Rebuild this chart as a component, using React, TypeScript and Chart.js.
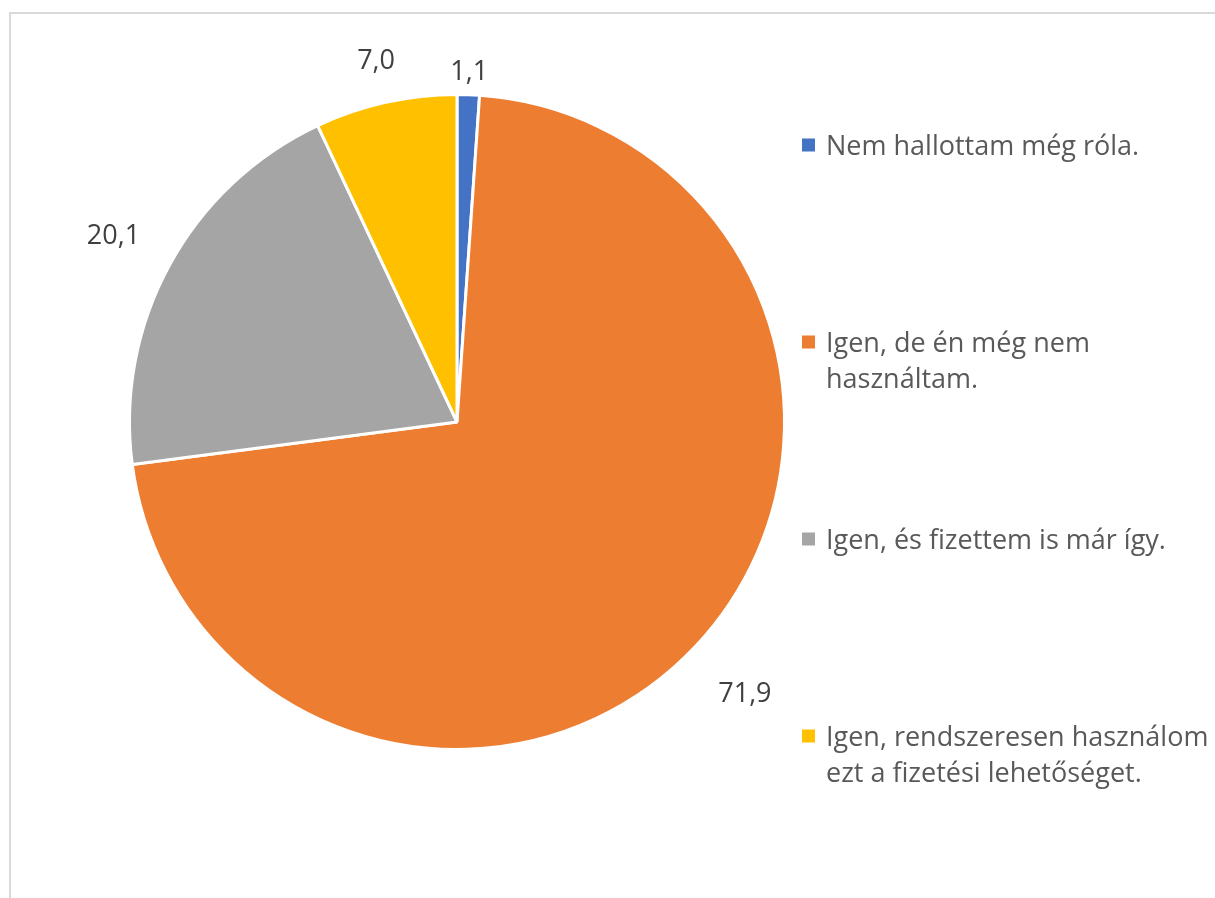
import React, { useEffect, useRef } from "react";
import { Chart, registerables } from "chart.js";

Chart.register(...registerables);

const categories = [
  "Nem hallottam még róla.",
  "Igen, de én még nem használtam.",
  "Igen, és fizettem is már így.",
  "Igen, rendszeresen használom ezt a fizetési lehetőséget.",
];
const values = [1.1, 71.9, 20.1, 7.0];
const valueLabels = ["1,1", "71,9", "20,1", "7,0"];
const colors = ["#4472C4", "#ED7D31", "#A5A5A5", "#FFC000"];
const legendLines = [
  ["Nem hallottam még róla."],
  ["Igen, de én még nem", "használtam."],
  ["Igen, és fizettem is már így."],
  ["Igen, rendszeresen használom", "ezt a fizetési lehetőséget."],
];

const FONT_FAMILY = "'Open Sans', 'Noto Sans', sans-serif";
const FONT_SIZE = 27;

const decorPlugin = {
  id: "decor",
  beforeDraw(chart: any) {
    const ctx = chart.ctx;
    ctx.save();
    ctx.strokeStyle = "#d9d9d9";
    ctx.lineWidth = 2;
    ctx.strokeRect(10, 13, 1400, 1100);
    ctx.restore();
  },
  afterDraw(chart: any, _args: any, opts: any) {
    const ctx = chart.ctx;
    const meta = chart.getDatasetMeta(0);
    ctx.save();
    ctx.font = `${FONT_SIZE}px ${FONT_FAMILY}`;
    ctx.textBaseline = "alphabetic";
    ctx.textAlign = "center";
    ctx.fillStyle = "#404040";
    const gaps: number[] = opts.labelGaps;
    meta.data.forEach((arc: any, i: number) => {
      const p = arc.getProps(["x", "y", "startAngle", "endAngle", "outerRadius"], true);
      const mid = (p.startAngle + p.endAngle) / 2;
      const text = valueLabels[i];
      const w = ctx.measureText(text).width;
      const h = 36;
      const c = Math.cos(mid);
      const s = Math.sin(mid);
      const d = p.outerRadius + gaps[i] + (w / 2) * Math.abs(c) + (h / 2) * Math.abs(s);
      const cx = p.x + d * c;
      const cy = p.y + d * s;
      ctx.fillText(text, cx, cy + FONT_SIZE * 0.357);
    });

    // legend
    const startY = 145;
    const step = 197;
    const lineH = 36;
    ctx.textAlign = "left";
    legendLines.forEach((lines, i) => {
      const cy = startY + i * step;
      ctx.fillStyle = colors[i];
      ctx.fillRect(802, cy - 6.5, 13, 13);
      ctx.fillStyle = "#595959";
      lines.forEach((ln, j) => {
        ctx.fillText(ln, 826, cy + j * lineH + FONT_SIZE * 0.357);
      });
    });
    ctx.restore();
  },
};

export default function App() {
  const ref = useRef<HTMLCanvasElement | null>(null);
  useEffect(() => {
    if (!ref.current) return;
    const chart = new Chart(ref.current, {
      type: "pie",
      data: {
        labels: categories,
        datasets: [
          {
            data: values,
            backgroundColor: colors,
            borderColor: "#ffffff",
            borderWidth: 3,
          },
        ],
      },
      options: {
        responsive: false,
        animation: false,
        events: [],
        layout: { padding: { left: 128, top: 93, right: 429, bottom: 147 } },
        plugins: {
          legend: { display: false },
          tooltip: { enabled: false },
          decor: { labelGaps: [6, 36, 32, 22] },
        } as any,
      },
      plugins: [decorPlugin],
    });
    return () => chart.destroy();
  }, []);
  return (
    <div style={{ position: "absolute", left: 0, top: 0, width: 1215, height: 898, background: "#fff" }}>
      <canvas ref={ref} width={1215} height={898} style={{ width: 1215, height: 898, display: "block" }} />
    </div>
  );
}
